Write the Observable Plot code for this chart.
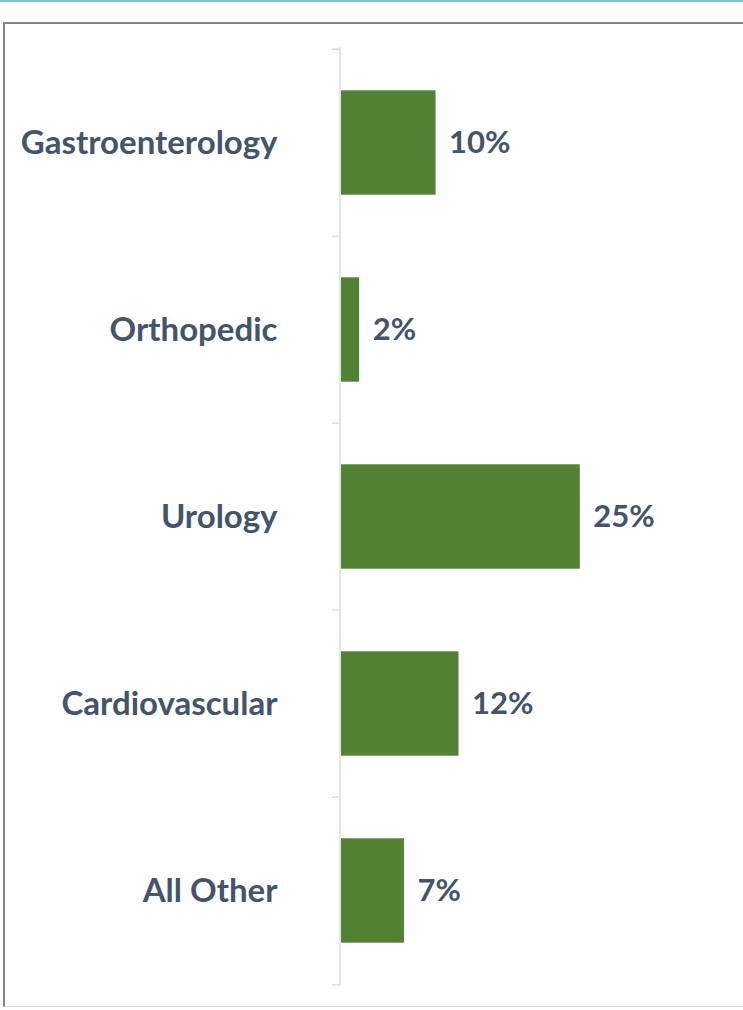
<!DOCTYPE html>
<html>
<head>
<meta charset="utf-8">
<script src="https://cdn.jsdelivr.net/npm/d3@7"></script>
<script src="https://cdn.jsdelivr.net/npm/@observablehq/plot@0.6"></script>
<style>
  html, body { margin: 0; padding: 0; background: #fff; width: 743px; height: 1010px; overflow: hidden; }
  #topline { position: absolute; left: 0; top: 0; width: 743px; height: 0; border-top: 2px solid #7dc3e3; }
  #box { position: absolute; left: 3px; top: 22px; width: 800px; height: 985px; box-sizing: border-box;
         border-left: 2px solid #858585; border-top: 2px solid #858585; border-bottom: 1px solid #d9d9d9; }
  #chart { position: absolute; left: 0; top: 0; }
</style>
</head>
<body>
<div id="topline"></div>
<div id="box"></div>
<div id="chart"></div>
<script>
const categories = ["Gastroenterology", "Orthopedic", "Urology", "Cardiovascular", "All Other"];
const values = [9.9, 1.9, 25.0, 12.3, 6.6];
const valueLabels = ["10%", "2%", "25%", "12%", "7%"];

const data = categories.map((c, i) => ({category: c, value: values[i], label: valueLabels[i]}));

const W = 743, H = 1010;
const mTop = 47, mBottom = 25, mLeft = 340;
const step = (H - mTop - mBottom) / categories.length;
const barH = 105;
const inset = (step - barH) / 2;
const textColor = "#44546a";
const font = "Lato, 'Open Sans', sans-serif";

const chart = Plot.plot({
  width: W,
  height: H,
  marginTop: mTop,
  marginBottom: mBottom,
  marginLeft: mLeft,
  marginRight: W - 341 - 30 * 9.52,
  style: {fontFamily: font, background: "transparent"},
  x: {domain: [0, 30], axis: null},
  y: {domain: categories, padding: 0, label: null},
  marks: [
    Plot.ruleX([0], {stroke: "#d9dde4", strokeWidth: 1.5, dx: -0.5}),
    Plot.ruleY(categories, {y: d => d, x1: 0, x2: 0, dy: -step / 2, insetLeft: -8, stroke: "#d9dde4", strokeWidth: 1.5}),
    Plot.ruleY([categories[categories.length - 1]], {y: d => d, x1: 0, x2: 0, dy: step / 2, insetLeft: -8, stroke: "#d9dde4", strokeWidth: 1.5}),
    Plot.barX(data, {y: "category", x: "value", fill: "#548235", insetTop: inset, insetBottom: inset, dx: 1}),
    Plot.axisY({tickSize: 0, tickPadding: 63, fontSize: 33, fontWeight: "bold", fill: textColor, label: null}),
    Plot.text(data, {y: "category", x: "value", text: "label", dx: 14, textAnchor: "start", fontSize: 31, fontWeight: "bold", fill: textColor})
  ]
});
document.getElementById("chart").appendChild(chart);
</script>
</body>
</html>
